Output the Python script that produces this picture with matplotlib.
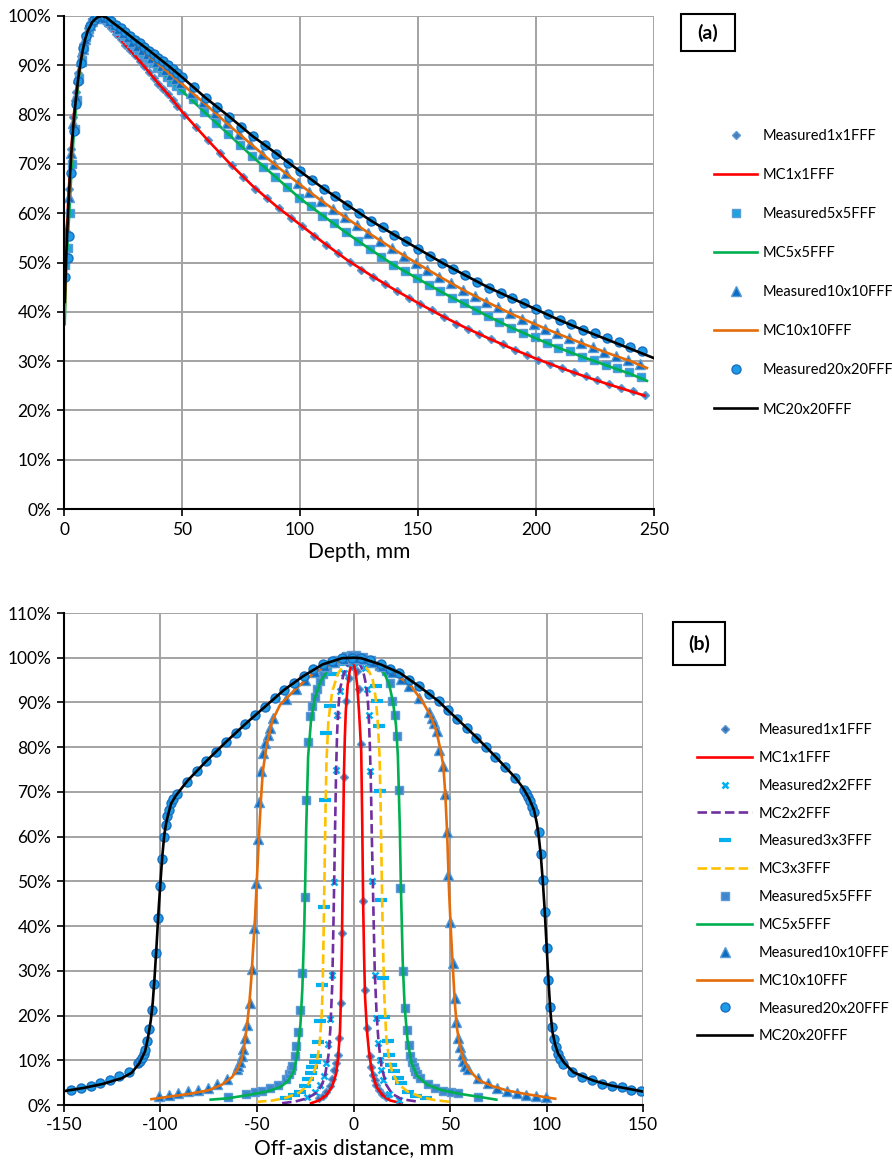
import matplotlib
matplotlib.use('Agg')
import matplotlib.pyplot as plt
from matplotlib.ticker import FuncFormatter, MultipleLocator
from matplotlib.patches import Rectangle

plt.rcParams['font.family'] = ['Lato', 'DejaVu Sans']
plt.rcParams['axes.unicode_minus'] = False

# ---------------- Panel (a): depth dose ----------------
d_m1 = [1, 2, 3, 4, 5, 6, 7, 8, 9, 10, 11, 12, 13, 14, 15, 16,
        18, 20, 22, 24, 26, 28, 30, 32, 34, 36, 38, 40, 42, 44, 46, 48,
        51, 56, 61, 66, 71, 76, 81, 86, 91, 96, 101, 106, 111, 116, 121, 126, 131, 136, 141, 146,
        151, 156, 161, 166, 171, 176, 181, 186, 191, 196, 201, 206, 211, 216, 221, 226, 231, 236, 241, 246]
v_m1 = [56, 65, 73, 79.5, 84.5, 88.5, 91.8, 94.3, 96.2, 97.6, 98.6, 99.3, 99.8, 100, 99.8, 99.4,
        98.6, 97.5, 96.4, 95.3, 94.2, 93.1, 92.0, 90.9, 89.8, 88.6, 87.4, 86.3, 85.2, 84.1, 83.0, 81.7,
        80.0, 77.5, 74.8, 72.2, 69.7, 67.3, 65.0, 63.0, 61.0, 59.1, 57.4, 55.3, 53.6, 51.9, 50.2, 48.5, 47.1, 45.6, 44.3, 42.7,
        41.5, 40.3, 39.0, 37.6, 36.6, 35.5, 34.4, 33.4, 32.3, 31.3, 30.3, 29.4, 28.5, 27.8, 26.9, 26.1, 25.4, 24.6, 23.9, 23.2]

d_m5 = [0.5, 1.5, 2.5, 3.5, 4.5, 5.5, 6.5, 7.5, 8.5, 9.5, 10.5, 12, 13.5, 15, 16.5, 18, 19.5,
        21.5, 23.5, 25.5, 27.5, 29.5, 31.5, 33.5, 35.5, 37.5, 39.5, 41.5, 43.5, 45.5, 47.5, 49.5,
        54.5, 59.5, 64.5, 69.5, 74.5, 79.5, 84.5, 89.5, 94.5, 99.5, 104.5, 109.5, 114.5, 119.5, 124.5,
        129.5, 134.5, 139.5, 144.5, 149.5, 154.5, 159.5, 164.5, 169.5, 174.5, 179.5, 184.5, 189.5,
        194.5, 199.5, 204.5, 209.5, 214.5, 219.5, 224.5, 229.5, 234.5, 239.5, 244.5]
v_m5 = [49.5, 53, 60, 70, 77, 83, 87.5, 91, 93.8, 95.8, 97.3, 98.7, 99.6, 100, 99.9, 99.4, 98.8,
        97.9, 96.9, 96.0, 95.1, 94.1, 93.2, 92.3, 91.3, 90.4, 89.5, 88.6, 87.6, 86.7, 85.8, 84.9,
        83.1, 80.5, 78.3, 76.1, 73.8, 71.6, 69.3, 67.4, 65.3, 63.1, 61.4, 59.5, 58.0, 56.1, 54.3,
        52.8, 51.1, 49.5, 48.3, 46.9, 45.5, 44.2, 42.9, 41.7, 40.3, 39.1, 38.0, 36.8,
        35.8, 34.8, 33.7, 32.7, 32.0, 30.8, 30.2, 29.3, 28.5, 27.7, 26.8]

d_m10 = [0, 1, 2, 3, 4, 5, 6, 7, 8, 9, 10, 11, 12, 13, 14, 15, 16, 17,
         19, 21, 23, 25, 27, 29, 31, 33, 35, 37, 39, 41, 43, 45, 47, 49,
         54, 59, 64, 69, 74, 79, 84, 89, 94, 99, 104, 109, 114, 119, 124, 129, 134, 139, 144, 149,
         154, 159, 164, 169, 174, 179, 184, 189, 194, 199, 204, 209, 214, 219, 224, 229, 234, 239, 244]
v_m10 = [52.8, 56.7, 63.3, 72.3, 78.3, 83.8, 87.5, 90.8, 93.3, 95.3, 96.9, 98.1, 99.0, 99.6, 99.9, 100, 99.9, 99.6,
         99.0, 98.2, 97.4, 96.5, 95.7, 94.8, 94.0, 93.2, 92.3, 91.5, 90.7, 89.8, 89.0, 88.1, 87.3, 86.4,
         84.4, 82.5, 80.4, 78.2, 76.0, 74.1, 72.0, 69.9, 68.2, 66.1, 64.4, 62.5, 60.8, 59.3, 57.7, 56.0, 54.4, 52.9, 51.4, 49.9,
         48.5, 47.1, 45.8, 44.5, 43.2, 42.0, 41.0, 39.8, 38.6, 37.6, 36.6, 35.6, 34.7, 33.7, 32.9, 31.9, 31.1, 30.2, 29.4]

d_m20 = [0.5, 1.5, 2.1, 3.1, 4.1, 5, 6, 7, 8.2, 9.5, 10.9, 12.5, 14, 15.5, 17, 18.5,
         20, 22, 24, 26, 28, 30, 32, 34, 36, 38, 40, 42, 44, 46, 48, 50,
         55, 60, 65, 70, 75, 80, 85, 90, 95, 100, 105, 110, 115, 120, 125, 130, 135, 140, 145, 150,
         155, 160, 165, 170, 175, 180, 185, 190, 195, 200, 205, 210, 215, 220, 225, 230, 235, 240, 245]
v_m20 = [47, 51, 55.3, 68.2, 76.7, 82.1, 86.8, 90.5, 93.6, 96.0, 98.0, 99.2, 99.8, 100, 100, 99.6,
         98.9, 98.2, 97.5, 96.7, 96.0, 95.2, 94.5, 93.7, 93.0, 92.3, 91.5, 90.8, 90.0, 89.2, 88.4, 87.6,
         85.6, 83.4, 81.5, 79.6, 77.5, 75.6, 73.9, 72.1, 70.2, 68.5, 66.7, 65.0, 63.4, 61.7, 60.1, 58.5, 57.1, 55.6, 54.3, 52.8,
         51.4, 50.0, 48.7, 47.4, 46.1, 44.9, 43.8, 42.7, 41.7, 40.6, 39.5, 38.4, 37.5, 36.4, 35.6, 34.7, 33.8, 32.9, 32.1]

d_mc = [0.3, 1, 2, 3, 4, 5, 6, 7, 8, 9, 10, 12, 14, 16, 18, 20, 25, 30, 35, 40, 45, 50,
        60, 70, 80, 90, 100, 110, 120, 130, 140, 150, 160, 170, 180, 190, 200, 210, 220, 230, 240]
d_mc1 = d_mc + [246]
d_mc5 = d_mc + [247]
d_mc10 = d_mc + [247]
d_mc20 = d_mc + [250]
v_mc1 = [44, 55, 64.5, 72.5, 79, 84, 88.2, 91.6, 94.2, 96.1, 97.6, 99.3, 100, 99.4, 98.5, 97.5,
         94.7, 92.0, 89.2, 86.3, 83.6, 80.6, 75.3, 70.2, 65.5, 61.4, 57.7, 54.0, 50.5, 47.4, 44.5,
         41.8, 39.2, 36.8, 34.6, 32.5, 30.5, 28.7, 27.0, 25.4, 23.9, 23.0]
v_mc5 = [37.5, 50, 58, 67, 75, 81, 86, 90, 93, 95.3, 97, 98.9, 99.8, 100, 99.4, 98.6,
         96.3, 93.9, 91.6, 89.3, 87.0, 84.8, 80.3, 75.9, 71.4, 67.2, 63.0, 59.4, 55.9, 52.6, 49.4,
         46.7, 44.0, 41.5, 39.0, 36.7, 34.6, 32.6, 30.8, 29.1, 27.4, 26.0]
v_mc10 = [40, 53, 62, 71, 77.5, 83, 87, 90.5, 93.2, 95.3, 96.9, 99, 99.9, 100, 99.6, 98.8,
          96.5, 94.4, 92.3, 90.3, 88.2, 86.2, 82.1, 77.8, 73.7, 69.6, 65.8, 62.2, 58.9, 55.7, 52.6,
          49.7, 46.9, 44.2, 41.8, 39.5, 37.4, 35.4, 33.5, 31.7, 30.0, 28.6]
v_mc20 = [42, 52, 63, 71.5, 78, 83, 87.2, 90.5, 93.2, 95.3, 96.9, 98.8, 99.7, 100, 99.7, 98.9,
          97.1, 95.2, 93.4, 91.5, 89.6, 87.6, 83.4, 79.6, 75.6, 72.1, 68.5, 65.0, 61.7, 58.5, 55.6,
          52.8, 50.0, 47.4, 44.9, 42.7, 40.5, 38.3, 36.3, 34.4, 32.5, 30.6]

# ---------------- Panel (b): profiles ----------------
x_m1 = [-18, -16, -14, -12.3, -11, -10, -9, -8.1, -7.6, -6.7, -5.9, -5.0, -3.8, -2.4, -1, 0.5, 1.8,
        3.1, 4.0, 4.8, 5.9, 7.1, 8.3, 9.1, 10.0, 10.9, 11.7, 13.1, 15, 17]
v_b_m1 = [1.5, 2.0, 2.9, 4.3, 5.8, 7.9, 9.5, 11.2, 14.9, 22.8, 38.4, 73.3, 90.3, 95.5, 98.2, 98.6, 97.0,
          92.9, 80.6, 45.5, 25.7, 17.2, 11.0, 8.6, 6.7, 5.6, 4.4, 3.4, 2.5, 1.8]
x_mc1 = [-22, -18, -14, -11, -9, -8, -7, -6.5, -6, -5.5, -5, -4.5, -4, -3, -2, -1, 0, 1, 2, 3, 3.5,
         4, 4.5, 5, 5.5, 6, 7, 8, 9, 10, 12, 15, 19, 25]
v_b_mc1 = [0.4, 1.0, 2.2, 4.2, 7.0, 10.5, 16.5, 24, 36, 55, 73, 82, 88, 94, 97, 98.5, 98.5, 97, 93.5, 87, 83,
           79, 64, 45, 33, 24, 16.5, 12, 9, 6.7, 4.0, 2.2, 1.0, 0.4]

x_m2 = [-24, -20, -17.5, -15.5, -14.2, -13.3, -12.1, -11.0, -10.3, -9.3, -8.4, -7.2, -5, -2.5, 0, 2.5,
        5.7, 7.1, 7.9, 8.8, 9.7, 10.9, 11.7, 12.9, 13.6, 14.3, 15.5, 18.6, 23.8]
v_b_m2 = [1.7, 2.8, 4.5, 6.5, 9.5, 13.6, 19.2, 29.1, 49.9, 74.8, 87.2, 92.5, 96.5, 98.8, 99.5, 99.0,
          97.8, 92.9, 87.3, 74.6, 50.0, 29.1, 19.4, 13.8, 10.1, 7.8, 5.6, 2.4, 1.1]
x_mc2 = [-37, -30, -24, -20, -17, -15, -13, -12, -11, -10.5, -10, -9.5, -9, -8.5, -8, -7, -5, -3, 0, 3,
         5, 6.5, 7.5, 8, 8.5, 9, 9.5, 10, 10.5, 11, 12, 13, 14.5, 17, 20, 25, 34]
v_b_mc2 = [0.4, 0.8, 1.5, 2.5, 4.0, 6.0, 11, 17, 27, 38, 50, 63, 75, 83, 88, 93, 96.5, 98.5, 99.5, 98.8,
           97, 94, 90, 86, 80, 72, 60, 50, 40, 30, 20, 14, 8.5, 4.5, 2.5, 1.3, 0.7]

x_m3 = [-35, -31, -27.9, -25.3, -23.6, -22.2, -21.3, -20.1, -19.3, -18.3, -17.2, -16.2, -15.5, -14.6,
        -14.0, -12.4, -10.7, -7, -3.5, 0, 3.5, 7, 9.1, 11.4, 12.1, 13.1, 13.8, 14.5, 15.5, 16.0, 17.8,
        18.6, 19.5, 21.2, 22.9, 24.7, 28.1, 32.4, 37.6]
v_b_m3 = [1.6, 2.2, 2.8, 4.3, 5.8, 7.1, 8.4, 9.7, 11.0, 14.0, 18.8, 26.9, 44.2, 68.3,
          83.2, 89.2, 96.3, 98.5, 99.7, 100.2, 99.7, 98.8, 98.1, 93.7, 90.3, 84.7, 70.1, 45.9, 28.4, 19.6, 14.4,
          11.2, 8.9, 7.5, 6.0, 4.9, 3.0, 2.1, 1.5]
x_mc3 = [-50, -42, -35, -28, -24, -21, -19, -17.5, -16.5, -16, -15.5, -15, -14.5, -14, -13, -11, -8, -4,
         0, 4, 8, 10, 11.5, 12.5, 13.5, 14, 14.5, 15, 15.5, 16, 17, 18.5, 20, 23, 28, 35, 42, 50]
v_b_mc3 = [0.7, 1.0, 1.6, 2.8, 4.3, 6.5, 9.5, 14, 20, 26, 38, 52, 66, 77, 86, 92.5, 96.5, 99,
           99.8, 99.2, 97, 95, 91, 86, 78, 68, 55, 42, 32, 24, 15, 10, 7.5, 4.8, 3.0, 1.8, 1.1, 0.7]

x_m5 = [-65.0, -55.5, -51.2, -47.2, -43.1, -38.9, -35.1, -33.4, -32.5, -31.7, -30.5, -30.0, -28.8, -27.9,
        -26.5, -25.3, -24.8, -23.6, -22.4, -21.4, -20.2, -19.0, -17.6, -15.9, -13.6, -11.0, -8.6, -3.8, -1.2,
        1.5, 5, 9, 13, 16.9, 19.0, 20.0, 21.7, 22.4, 23.4, 24.3, 25.5, 26.5, 27.5, 28.6, 29.4, 30.3, 31.2,
        32.0, 32.9, 34.6, 38.8, 42.4, 46.5, 50.5, 54.3, 64.3]
v_b_m5 = [1.7, 2.4, 3.0, 3.2, 3.7, 4.5, 5.8, 6.9, 7.8, 8.8, 11.0, 13.1, 16.3, 21.2,
          29.6, 46.4, 68.1, 81.2, 86.9, 89.2, 91.2, 92.9, 94.8, 96.3, 97.8, 98.9, 99.6, 100.4, 100.7,
          100.5, 100.2, 99.4, 98.2, 97.0, 94.4, 90.3, 87.3, 82.5, 70.5, 48.5, 30.0, 21.7, 16.7, 13.4, 11.0, 9.6, 8.4,
          7.5, 6.9, 6.0, 4.7, 3.9, 3.2, 2.8, 2.7, 1.9]
x_mc5 = [-74, -65, -55, -45, -38, -34, -31, -29, -27.5, -26.5, -25.5, -25, -24.5, -23.5, -22, -20, -17,
         -12, -6, 0, 6, 12, 16, 18.5, 20.5, 22, 23, 24, 24.5, 25.5, 26.5, 28, 30, 33, 38, 45, 55, 64, 74]
v_b_mc5 = [1.2, 1.5, 2.2, 3.0, 4.0, 5.3, 7.5, 11.5, 18, 26, 40, 50, 62, 78, 86, 91, 94.8,
           98, 99.7, 100, 99.6, 98, 96.5, 94, 90, 85, 78, 62, 50, 32, 22, 14.5, 9.5, 6.5, 4.6, 3.4, 2.5, 1.9, 1.2]

x_m10 = [-100.7, -95.5, -90.7, -85.6, -80.6, -75.6, -70.6, -65.6, -60.6, -59.7, -58.8, -58.0, -57.1,
         -56.2, -55.4, -53.6, -52.8, -51.4, -50.5, -49.7, -48.8, -47.9, -46.7, -45.7, -44.5, -43.3, -41.9,
         -35.2, -30.0, -25.2, -20.2, -15.0, -10.2, -5.0, 0, 5, 10, 15, 20, 24.5, 29.0, 34.1, 39.0, 40.7,
         41.9, 43.1, 44.5, 46.6, 47.6, 48.4, 49.1, 50.2, 51.4, 52.4, 53.1, 54.1, 55.2, 56.0, 56.9, 57.9,
         59.1, 64.3, 69.5, 74.5, 79.5, 84.5, 89.5, 94.5, 99.7]
v_b_m10 = [2.0, 2.3, 2.7, 3.1, 3.4, 3.7, 4.7, 5.8, 8.1, 8.8, 9.7, 10.9, 12.6,
           14.9, 17.9, 22.9, 30.5, 39.5, 49.6, 59.5, 67.7, 74.6, 78.7, 80.9, 82.8, 84.3, 86.5,
           90.7, 92.9, 95.1, 96.8, 98.1, 99.0, 99.8, 100.0, 99.8, 99.1, 98.2, 96.9, 95.3, 93.6, 91.0, 87.9, 86.6,
           85.4, 83.6, 79.4, 75.7, 69.5, 61.1, 51.4, 41.0, 31.8, 23.9, 18.5, 15.0, 12.9, 11.2, 9.9, 8.8,
           8.1, 6.0, 4.9, 3.8, 3.1, 2.7, 2.3, 2.1, 1.9]
x_mc10 = [-104.7, -95, -85, -75, -68, -63, -60, -58, -56.5, -55, -54, -53, -52, -51, -50, -49, -48, -47,
          -45, -42, -38, -30, -20, -10, 0, 10, 20, 30, 36, 40, 43, 45, 46.5, 47.5, 48.5, 49.5, 50.5, 51.5,
          52.5, 53.5, 55, 57, 60, 65, 72, 80, 90, 104.5]
v_b_mc10 = [1.3, 1.9, 2.5, 3.3, 4.6, 6.2, 8.0, 10.2, 13.5, 18.5, 22.5, 28, 35, 42, 51, 60, 68, 74.5,
            80.5, 86, 89.5, 93, 96.8, 99, 100, 99.1, 96.9, 93.6, 90, 87, 83.5, 79.5, 76, 70, 61, 48, 38.5, 30.5,
            23, 17.5, 13.5, 10.2, 7.8, 5.5, 4.2, 3.2, 2.4, 1.4]

x_m20 = [-146.2, -141.3, -136.2, -131.3, -126.3, -121.3, -116.3, -111.4, -110.6, -109.7,
         -108.8, -108.0, -107.1, -106.2, -104.2, -103.3, -102.4, -101.4, -100.2, -99.3,
         -98.1, -97.2, -96.4, -95.5, -94.5, -93.3, -91.7, -86.3, -81.3, -76.3,
         -71.3, -66.1, -61.1, -56.1, -51.1, -45.9, -40.9, -36.0, -31.0, -25.9,
         -21.0, -15.9, -11.0, -5.9, -1.0, 4.0, 8.8, 14.0, 19.0, 23.8,
         29.0, 33.8, 39.0, 44.1, 48.8, 53.8, 58.6, 63.4, 68.6, 73.4,
         78.6, 83.8, 88.4, 89.3, 90.2, 91.4, 92.4, 93.6, 95.9, 97.1,
         98.3, 99.1, 100.0, 100.9, 101.7, 102.6, 104.0, 104.8, 105.7, 106.9,
         108.3, 113.4, 118.6, 123.8, 129.0, 133.8, 139.0, 143.8, 148.8]
v_b_m20 = [3.4, 3.8, 4.3, 4.9, 5.5, 6.4, 7.3, 9.3, 9.9, 10.6,
           11.4, 12.4, 14.4, 16.9, 21.3, 27.1, 33.9, 41.7, 49.0, 55.0,
           59.9, 62.6, 64.6, 66.0, 67.5, 68.5, 69.5, 72.3, 74.6, 77.0,
           79.0, 81.1, 83.2, 85.2, 87.1, 89.0, 91.0, 92.8, 94.4, 95.9,
           97.4, 98.5, 99.3, 99.9, 100.0, 99.9, 99.4, 98.5, 97.5, 96.6,
           95.0, 93.6, 92.0, 90.3, 88.4, 86.2, 84.2, 82.1, 80.0, 77.7,
           75.5, 73.1, 70.5, 69.7, 68.8, 67.9, 66.7, 65.4, 61.1, 56.1,
           50.3, 43.2, 35.1, 28.0, 21.9, 17.4, 14.8, 12.9, 11.4, 10.2,
           9.2, 7.3, 6.2, 5.5, 4.7, 4.3, 4.0, 3.4, 3.1]
x_mc20 = [-150, -140, -130, -120, -115, -111, -108, -106.5, -105, -104,
          -103, -102, -101, -100, -99, -98, -97, -96, -94.5, -92,
          -86, -76, -66, -56, -46, -36, -26, -16, -6, 0,
          4, 14, 24, 34, 44, 49, 54, 64, 74, 84,
          88, 91, 93.5, 95, 96, 97, 98, 99, 100, 101,
          102, 103, 104.5, 106, 109, 114, 124, 134, 144, 150]
v_b_mc20 = [3.1, 3.8, 4.7, 6.0, 7.2, 9.3, 12.0, 15.0, 19.0, 23.0,
            29, 36, 43.5, 50, 56, 60.5, 63.2, 65, 67.4, 69.2,
            72.5, 77, 81.2, 85.2, 89, 92.8, 95.9, 98.5, 99.9, 100,
            99.9, 98.5, 96.6, 93.6, 90.3, 88.2, 86.2, 82.1, 77.7, 73.1,
            70.8, 68.5, 66, 63, 60, 56, 50.5, 44, 36, 28,
            21, 16.5, 13.5, 11.5, 9.5, 7.3, 5.5, 4.3, 3.5, 3.0]

# ---------------- styles ----------------
EDGE = '#5B9BD5'
LW = 1.9

fig = plt.figure(figsize=(8.92, 11.67), dpi=100)
axA = fig.add_axes([64/892, 1-509/1167, 590/892, 493/1167])
axB = fig.add_axes([64/892, 1-1105/1167, 579/892, 492/1167])

def style(ax):
    ax.grid(True, color='#a3a3a3', lw=1.4)
    ax.set_axisbelow(True)
    for s in ['top', 'right']:
        ax.spines[s].set_visible(False)
    for s in ['left', 'bottom']:
        ax.spines[s].set_color('black')
        ax.spines[s].set_linewidth(1.5)
        ax.spines[s].set_zorder(5)
    ax.tick_params(direction='out', length=5, width=1.2, labelsize=12.5, pad=4, color='black')
    ax.yaxis.set_major_formatter(FuncFormatter(lambda v, p: f'{v:.0f}%'))

# Panel (a)
axA.plot(d_m1, v_m1, ls='none', marker='D', ms=4.5, mfc='#4A7EBB', mec=EDGE, mew=1, label='Measured1x1FFF')
axA.plot(d_mc1, v_mc1, color='#FF0000', lw=LW, label='MC1x1FFF')
axA.plot(d_m5, v_m5, ls='none', marker='s', ms=6, mfc='#1FA3DC', mec=EDGE, mew=1, label='Measured5x5FFF')
axA.plot(d_mc5, v_mc5, color='#00B050', lw=LW, label='MC5x5FFF')
axA.plot(d_m10, v_m10, ls='none', marker='^', ms=6.5, mfc='#0A6CC4', mec=EDGE, mew=1, label='Measured10x10FFF')
axA.plot(d_mc10, v_mc10, color='#E46C0A', lw=LW, label='MC10x10FFF')
axA.plot(d_m20, v_m20, ls='none', marker='o', ms=6.5, mfc='#1E9BE6', mec='#1A6FC0', mew=1, label='Measured20x20FFF')
axA.plot(d_mc20, v_mc20, color='black', lw=LW, label='MC20x20FFF')
axA.set_xlim(0, 250)
axA.set_ylim(0, 100)
axA.xaxis.set_major_locator(MultipleLocator(50))
axA.yaxis.set_major_locator(MultipleLocator(10))
style(axA)
axA.set_xlabel('Depth, mm', fontsize=15, labelpad=3)
axA.legend(loc='upper left', bbox_to_anchor=(714/892, 1-129/1167), bbox_transform=fig.transFigure,
           frameon=False, fontsize=10.5, handlelength=2.95, handletextpad=0.35, labelspacing=1.72,
           borderpad=0, borderaxespad=0, numpoints=1)

# Panel (b)
axB.plot(x_m1, v_b_m1, ls='none', marker='D', ms=4.5, mfc='#3F6FB0', mec=EDGE, mew=1, label='Measured1x1FFF')
axB.plot(x_mc1, v_b_mc1, color='#FF0000', lw=LW, label='MC1x1FFF')
axB.plot(x_m2, v_b_m2, ls='none', marker='x', ms=5, mec='#00B0F0', mew=1.8, label='Measured2x2FFF')
axB.plot(x_mc2, v_b_mc2, color='#7030A0', lw=LW, dashes=(3.6, 1.6), label='MC2x2FFF')
axB.plot(x_m3, v_b_m3, ls='none', marker='_', ms=9, mec='#00B0F0', mew=3, label='Measured3x3FFF')
axB.plot(x_mc3, v_b_mc3, color='#FFC000', lw=LW, dashes=(3.6, 1.6), label='MC3x3FFF')
axB.plot(x_m5, v_b_m5, ls='none', marker='s', ms=6, mfc='#3F86CF', mec=EDGE, mew=1, label='Measured5x5FFF')
axB.plot(x_mc5, v_b_mc5, color='#00B050', lw=LW, label='MC5x5FFF')
axB.plot(x_m10, v_b_m10, ls='none', marker='^', ms=6.5, mfc='#0A6CC4', mec=EDGE, mew=1, label='Measured10x10FFF')
axB.plot(x_mc10, v_b_mc10, color='#E46C0A', lw=LW, label='MC10x10FFF')
axB.plot(x_m20, v_b_m20, ls='none', marker='o', ms=6.5, mfc='#1E9BE6', mec='#1A6FC0', mew=1, label='Measured20x20FFF')
axB.plot(x_mc20, v_b_mc20, color='black', lw=LW, label='MC20x20FFF')
axB.set_xlim(-150, 150)
axB.set_ylim(0, 110)
axB.xaxis.set_major_locator(MultipleLocator(50))
axB.yaxis.set_major_locator(MultipleLocator(10))
style(axB)
axB.set_xlabel('Off-axis distance, mm', fontsize=15, labelpad=3)
axB.legend(loc='upper left', bbox_to_anchor=(697/892, 1-723/1167), bbox_transform=fig.transFigure,
           frameon=False, fontsize=10.5, handlelength=3.8, handletextpad=0.45, labelspacing=0.95,
           borderpad=0, borderaxespad=0, numpoints=1)

# Panel labels
for (x0, y0, x1, y1, txt) in [(681, 14, 735, 51, '(a)'), (673, 622, 725, 665, '(b)')]:
    fig.add_artist(Rectangle((x0/892, 1-y1/1167), (x1-x0)/892, (y1-y0)/1167,
                             transform=fig.transFigure, fill=False, ec='black', lw=1.5))
    fig.text((x0+x1)/2/892, 1-(y0+y1)/2/1167, txt, ha='center', va='center',
             fontsize=14, fontweight='bold')

fig.savefig('out.png', dpi=100)
